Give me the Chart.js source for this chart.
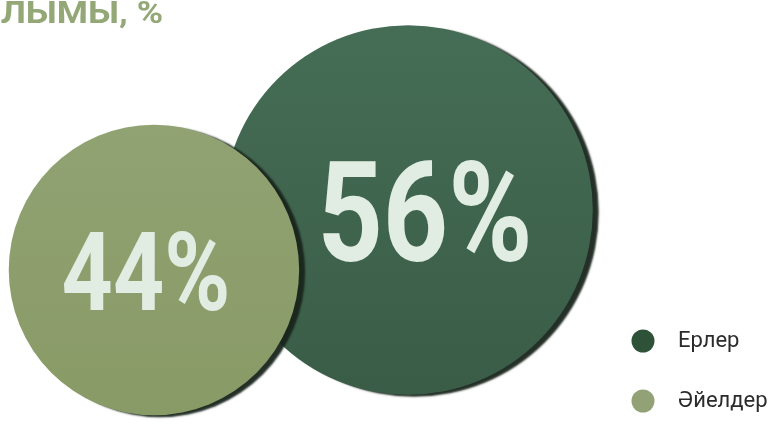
<!DOCTYPE html>
<html>
<head>
<meta charset="utf-8">
<script src="https://cdn.jsdelivr.net/npm/chart.js@4/dist/chart.umd.min.js"></script>
<style>
  html, body { margin: 0; padding: 0; background: #fff; }
  #wrap { width: 773px; height: 424px; position: relative; }
</style>
</head>
<body>
<div id="wrap"><canvas id="chart1"></canvas></div>
<script>
// данные
var titleText = 'ЖЫНЫСТЫҚ ҚҰРЫЛЫМЫ, %'
var labels = ['Ерлер', 'Әйелдер']
var values = [56, 44]
var slots = [2, 1] // порядок кругов слева направо
var colorsTop = ['#466e56', '#95a679']
var colorsBottom = ['#395b46', '#889a65']
var markerColors = ['#2e5238', '#93a276']
var labelShift = [17, -8]

var rScale = 3.3

var bubbleData = []
for (var i = 0; i < values.length; i++){
    bubbleData.push({x: slots[i], y: values[i], r: values[i] * rScale})
}

// большие круги не должны сжимать область графика
Chart.BubbleController.prototype.getMaxOverflow = function(){ return 0 }

function grad(ctx, i){
    var chart = ctx.chart
    var area = chart.chartArea
    if (!area) return colorsBottom[i]
    var g = chart.ctx.createLinearGradient(0, area.top, 0, area.bottom)
    g.addColorStop(0, colorsTop[i])
    g.addColorStop(1, colorsBottom[i])
    return g
}

const shadowPlugin = {
    id: 'shadow',
    beforeDatasetsDraw(chart){
        var c = chart.ctx
        c.save()
        c.shadowColor = 'rgba(24,36,27,0.95)'
        c.shadowOffsetX = 6
        c.shadowOffsetY = 2
        c.shadowBlur = 2
    },
    afterDatasetsDraw(chart){
        chart.ctx.restore()
    }
}

const valuePlugin = {
    id: 'values',
    afterDatasetsDraw(chart){
        var c = chart.ctx
        var meta = chart.getDatasetMeta(0)
        meta.data.forEach(function(el, i){
            var r = bubbleData[i].r
            var size = Math.round(r * 0.75)
            c.save()
            c.translate(el.x + labelShift[i], el.y)
            c.scale(0.82, 1)
            c.font = 'bold ' + size + 'px Roboto'
            c.fillStyle = '#e1ede2'
            c.textAlign = 'center'
            c.textBaseline = 'alphabetic'
            c.fillText(values[i] + '%', 0, size * 0.37)
            c.restore()
        })
    }
}

const titlePlugin = {
    id: 'cutTitle',
    afterDraw(chart){
        var c = chart.ctx
        c.save()
        c.translate(163, 23)
        c.scale(1.15, 1)
        c.font = 'bold 31px Roboto'
        c.fillStyle = '#93a876'
        c.textAlign = 'right'
        c.textBaseline = 'alphabetic'
        c.fillText(titleText, 0, 0)
        c.restore()
    }
}

const legendPlugin = { // своя легенда справа внизу
    id: 'sideLegend',
    afterDraw(chart){
        var c = chart.ctx
        for (var i = 0; i < labels.length; i++){
            var y = 341 + i * 60
            c.save()
            c.beginPath()
            c.arc(643, y, 11.5, 0, Math.PI * 2)
            c.fillStyle = markerColors[i]
            c.fill()
            c.font = '22px Roboto'
            c.fillStyle = '#2b2b2b'
            c.textBaseline = 'middle'
            c.fillText(labels[i], 678, y)
            c.restore()
        }
    }
}

const chart1 = document.getElementById('chart1')
new Chart(chart1, {
    type: 'bubble',
    data: {
        labels: labels,
        datasets: [{
            label: 'Үлесі',
            data: bubbleData,
            backgroundColor: function(ctx){ return grad(ctx, ctx.dataIndex) },
            borderWidth: 0,
            hoverRadius: 0,
            clip: false
        }]
    },
    options: {
        responsive: true,
        maintainAspectRatio: false,
        animation: false,
        events: [],
        layout: { padding: 0 },
        scales: {
            x: { type: 'linear', display: false, min: 0.394, max: 3.437 },
            y: { type: 'linear', display: false, min: 13.2, max: 98 }
        },
        plugins: {
            legend: { display: false },
            tooltip: { enabled: false }
        }
    },
    plugins: [shadowPlugin, valuePlugin, titlePlugin, legendPlugin]
});
</script>
</body>
</html>
